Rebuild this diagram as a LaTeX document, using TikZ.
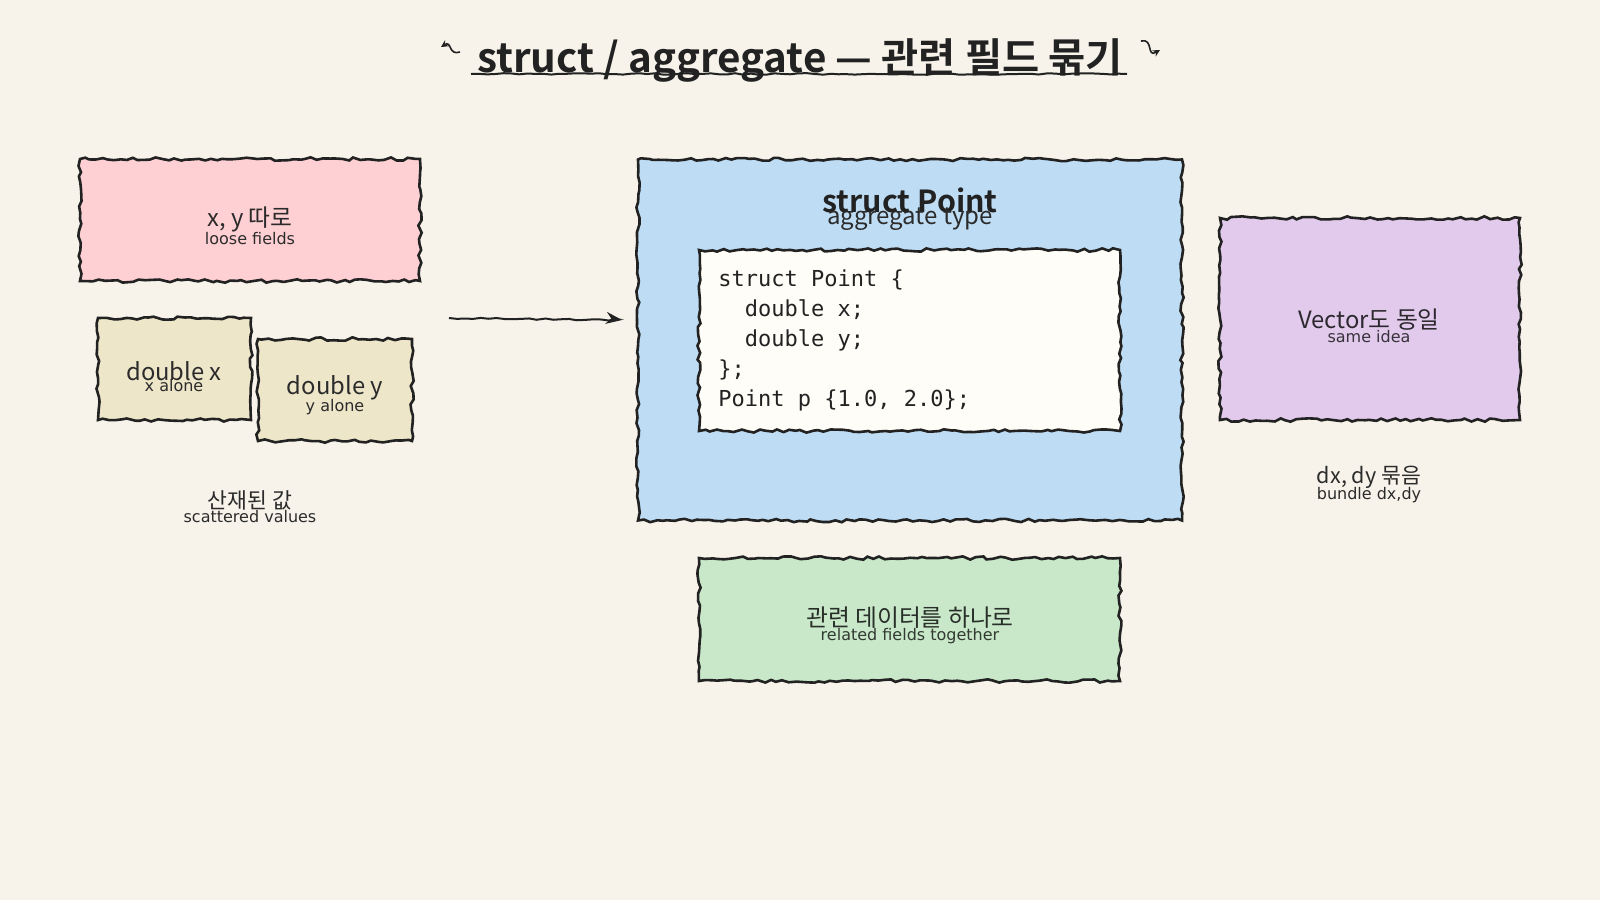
\documentclass[tikz,border=0pt]{standalone}
\usepackage{fontspec}
\setmainfont{Noto Sans CJK KR}
\newfontfamily\krfont{Noto Sans CJK KR}
\newfontfamily\krbold{Noto Sans CJK KR Bold}
\newfontfamily\subfont{DejaVu Sans}
\newfontfamily\codefont{DejaVu Sans Mono}
\usetikzlibrary{decorations.pathmorphing,arrows.meta}
\definecolor{bg}{HTML}{F7F3EA}
\definecolor{pinkf}{HTML}{FFD0D3}
\definecolor{tanf}{HTML}{EEE6C9}
\definecolor{bluef}{HTML}{BEDCF3}
\definecolor{whitef}{HTML}{FFFDF7}
\definecolor{purplef}{HTML}{E1CAEB}
\definecolor{greenf}{HTML}{C8E8C9}
\definecolor{ink}{HTML}{222222}
\definecolor{txt}{HTML}{2B2B2B}
% 1 unit = 0.5pt ; sizes below are halved pixel values
\newcommand{\fsz}[1]{\fontsize{#1}{#1}\selectfont}
\tikzset{
  rough/.style={draw=ink, line width=1.3pt, decorate,
    decoration={random steps, segment length=3pt, amplitude=0.85pt},
    inner sep=0pt},
  maintxt/.style={font=\krfont\fsz{11.9}, text=txt, inner sep=0pt},
  subtxt/.style={font=\subfont\fsz{8}, text=txt, inner sep=0pt},
  codetxt/.style={font=\codefont\fsz{11}, text=ink, inner sep=0pt, anchor=west},
  roughline/.style={draw=ink, line width=1pt, decorate,
    decoration={random steps, segment length=4pt, amplitude=0.4pt}},
  squig/.style={draw=ink, line width=0.8pt, -{Stealth[length=3.5pt,width=3.5pt]}},
}
\begin{document}
\begin{tikzpicture}[x=0.5pt,y=-0.5pt]
\pgfmathsetseed{7}
\fill[bg] (0,0) rectangle (1600,900);
\useasboundingbox (0,0) rectangle (1600,900);

% title
\node[font=\krbold\fsz{20.2}, text=ink, inner sep=0pt] (title) at (800,60) {struct / aggregate — 관련 필드 묶기};
\coordinate (ulA) at (471,74);
\coordinate (ulB) at (1127,74);
\draw[roughline] (ulA) -- (ulB);
\coordinate (lq1) at (460,52);
\coordinate (lq2) at (441,47);
\coordinate (rq1) at (1141,41);
\coordinate (rq2) at (1160,50);
\draw[squig] (lq1) .. controls (448,56) and (452,40) .. (lq2);
\draw[squig] (rq1) .. controls (1154,38) and (1146,58) .. (rq2);

% left column
\node[rough, fill=pinkf, minimum width=170pt, minimum height=61pt] (loose) at (250,220) {};
\node[maintxt] (looseA) at (250,219) {x, y 따로};
\node[subtxt] (looseB) at (250,239) {loose fields};

\node[rough, fill=tanf, minimum width=76.5pt, minimum height=51pt] (dx) at (174.5,369) {};
\node[maintxt] (dxA) at (174,371) {double x};
\node[subtxt] (dxB) at (174,386) {x alone};

\node[rough, fill=tanf, minimum width=77pt, minimum height=51pt] (dy) at (335,390) {};
\node[maintxt] (dyA) at (335,388) {double y};
\node[subtxt] (dyB) at (335,407) {y alone};

\node[maintxt, font=\krfont\fsz{10.8}] (scA) at (250,500) {산재된 값};
\node[subtxt] (scB) at (250,517) {scattered values};

% arrow
\coordinate (arS) at (449,318);
\coordinate (arE) at (622,320);
\draw[roughline, -{Stealth[length=8pt,width=6pt]}] (arS) -- (arE);

% struct point
\node[rough, fill=bluef, minimum width=272pt, minimum height=180.5pt] (point) at (910,340) {};
\node[font=\krbold\fsz{15.2}, text=ink, inner sep=0pt] (ptA) at (910,200) {struct Point};
\node[font=\krfont\fsz{12}, text=txt, inner sep=0pt] (ptB) at (910,219) {aggregate type};

\node[rough, fill=whitef, minimum width=210.5pt, minimum height=90.5pt] (code) at (909.5,340.5) {};
\node[codetxt] (c1) at (718,280) {struct Point \{};
\node[codetxt] (c2) at (718,310) {\ \ double x;};
\node[codetxt] (c3) at (718,340) {\ \ double y;};
\node[codetxt] (c4) at (718,370) {\};};
\node[codetxt] (c5) at (718,400) {Point p \{1.0, 2.0\};};

% right column
\node[rough, fill=purplef, minimum width=150pt, minimum height=101pt] (vec) at (1370,319) {};
\node[maintxt, text=black!80!purplef] (vecA) at (1369,320) {Vector도 동일};
\node[subtxt, text=black!75!purplef] (vecB) at (1369,337) {same idea};
\node[maintxt, font=\krfont\fsz{10.8}] (bdA) at (1369,477) {dx, dy 묶음};
\node[subtxt] (bdB) at (1369,495) {bundle dx,dy};

% bottom
\node[rough, fill=greenf, minimum width=210.5pt, minimum height=61.5pt] (rel) at (909.5,619.5) {};
\node[maintxt, text=black!80!greenf] (relA) at (910,618) {관련 데이터를 하나로};
\node[subtxt, text=black!75!greenf] (relB) at (910,636) {related fields together};
\end{tikzpicture}
\end{document}
